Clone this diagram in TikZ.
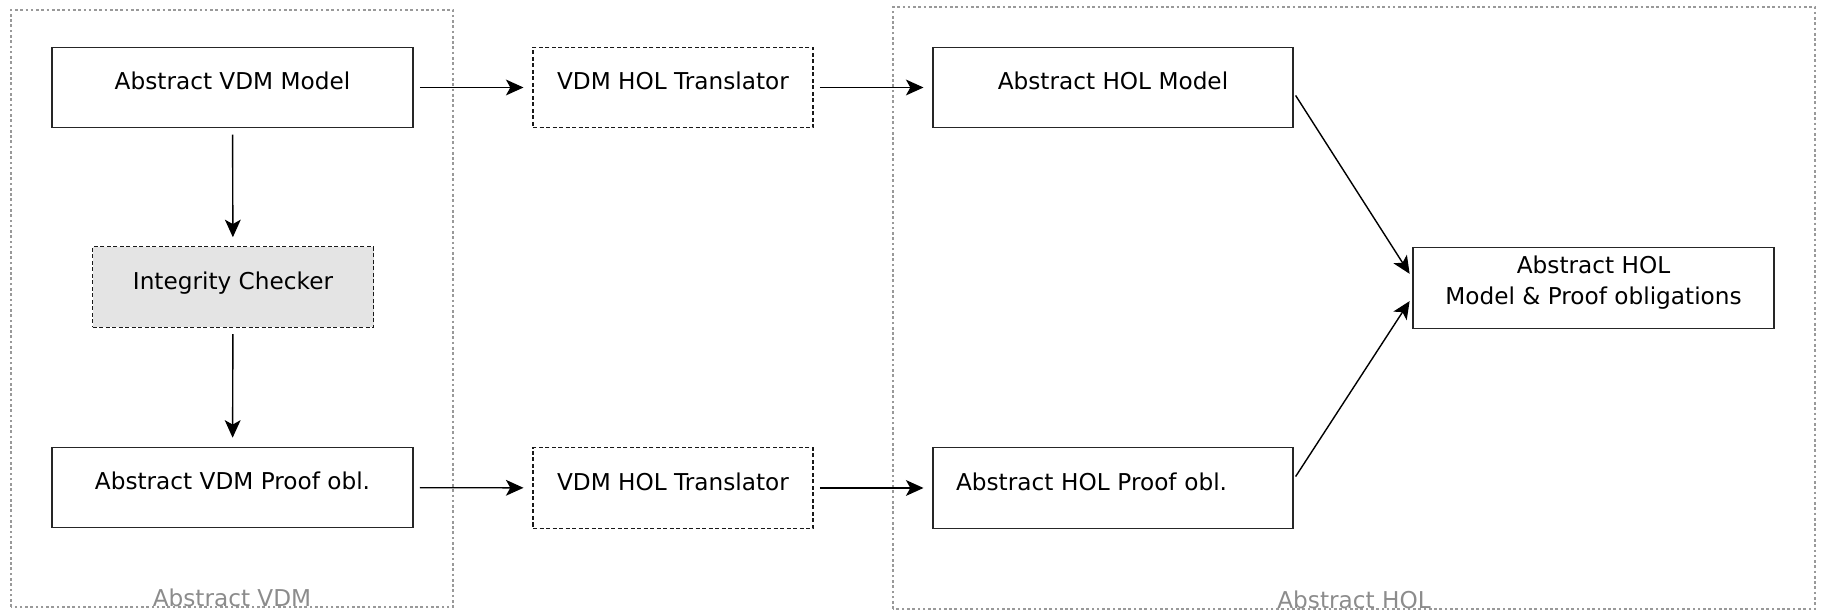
\documentclass[tikz,border=0pt]{standalone}
\usepackage{fontspec}
\setmainfont{DejaVu Sans}
\usepackage{xcolor}
\usepackage{tikz}
\usetikzlibrary{arrows.meta,positioning}

\definecolor{checkerfill}{HTML}{E4E4E4}

\tikzset{
  block/.style={minimum height=1.61cm, inner sep=0pt},
  model/.style={block, draw=black!85, line width=0.8pt, text height=10pt, text depth=7.2pt},
  tool/.style={block, draw=black!90, line width=0.8pt, dash pattern=on 2.3pt off 1.4pt, text height=10pt, text depth=7.2pt},
  group/.style={draw=black!40, line width=0.6pt, dash pattern=on 1.5pt off 1.5pt},
  grouplabel/.style={text=black!45, anchor=base, inner sep=0pt},
  flow/.style={-{Stealth[length=10pt,width=9pt,inset=2.5pt]}, line width=0.8pt, shorten <=3.5pt, shorten >=5pt}
}

\begin{document}
\begin{tikzpicture}[font=\fontsize{13.2}{17.5}\selectfont]
  \useasboundingbox (0,0) rectangle (36.42,12.22);
  \draw[group] (0.22,0.08) rectangle (9.06,12.02);
  \node[grouplabel] (vdmlabel) at (4.64,0.08) {Abstract VDM};
  \draw[group] (17.86,0.04) rectangle (36.30,12.08);
  \node[grouplabel] (hollabel) at (27.08,0.04) {Abstract HOL};

  \node[model, minimum width=7.22cm] (vdmmodel) at (4.65,10.47) {Abstract VDM Model};
  \node[tool, minimum width=5.62cm, fill=checkerfill] (checker) at (4.66,6.48) {Integrity Checker};
  \node[model, minimum width=7.22cm] (vdmproof) at (4.65,2.47) {Abstract VDM Proof obl.};

  \node[tool, minimum width=5.6cm] (transtop) at (13.46,10.47) {VDM HOL Translator};
  \node[tool, minimum width=5.6cm] (transbot) at (13.46,2.46) {VDM HOL Translator};

  \node[model, minimum width=7.2cm] (holmodel) at (22.26,10.47) {Abstract HOL Model};
  \node[model, minimum width=7.2cm, text width=6.28cm, align=left] (holproof) at (22.26,2.46) {Abstract HOL Proof obl.};
  \node[block, draw=black!85, line width=0.8pt, minimum width=7.22cm, align=center] (holall) at (31.87,6.46) {Abstract HOL\\Model \& Proof obligations\rule[-8.8pt]{0pt}{0pt}};

  \draw[flow] (vdmmodel) -- (checker);
  \draw[flow] (checker) -- (vdmproof);
  \draw[flow] (vdmmodel) -- (transtop);
  \draw[flow] (vdmproof) -- (transbot);
  \draw[flow] (transtop) -- (holmodel);
  \draw[flow] (transbot) -- (holproof);
  \draw[flow, shorten <=2pt, shorten >=2.8pt] ([yshift=-1mm]holmodel.east) -- ([yshift=2mm]holall.west);
  \draw[flow, shorten <=2pt, shorten >=2.8pt] ([yshift=1.7mm]holproof.east) -- ([yshift=-1.8mm]holall.west);
\end{tikzpicture}
\end{document}
